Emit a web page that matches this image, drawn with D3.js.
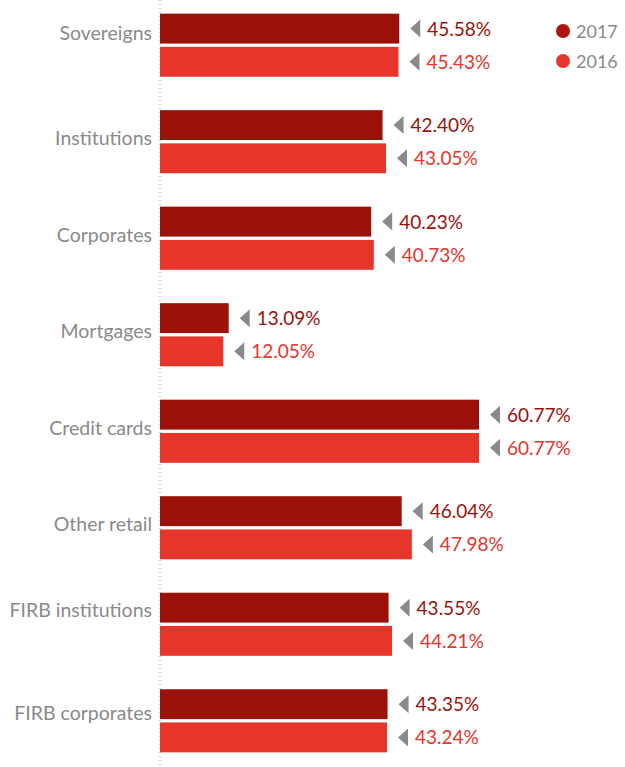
<!DOCTYPE html>
<html>
<head>
<meta charset="utf-8">
<script src="https://cdn.jsdelivr.net/npm/d3@7"></script>
<style>
  body { margin: 0; background: #fff; }
  text { font-family: Lato, "Open Sans", sans-serif; }
</style>
</head>
<body>
<svg width="625" height="767"></svg>
<script>
const svg = d3.select("svg");
const width = +svg.attr("width");
const height = +svg.attr("height");

const categories = ["Sovereigns", "Institutions", "Corporates", "Mortgages", "Credit cards", "Other retail", "FIRB institutions", "FIRB corporates"];
const seriesNames = ["2017", "2016"];
const values2017 = [45.58, 42.40, 40.23, 13.09, 60.77, 46.04, 43.55, 43.35];
const values2016 = [45.43, 43.05, 40.73, 12.05, 60.77, 47.98, 44.21, 43.24];

const colours = { "2017": "#9b1109", "2016": "#e6352b" };
const grey = "#8a8a8a";
const axisX = 160;
// the original places a few category labels a bit off the group centre
const labelNudge = { "Sovereigns": -9, "FIRB institutions": -11, "FIRB corporates": -4 };

const rows = categories.map((c, i) => ({
    category: c,
    bars: [
        { series: "2017", value: values2017[i] },
        { series: "2016", value: values2016[i] }
    ]
}));

const x = d3.scaleLinear().domain([0, 60.77]).range([axisX, 479]);

const y = d3.scaleBand()
    .domain(categories)
    .range([4, 762])
    .paddingInner(0.346)
    .paddingOuter(0.1);

const ySub = d3.scaleBand()
    .domain(seriesNames)
    .range([0, y.bandwidth()])
    .paddingInner(0.1);

// dotted axis line
svg.append("line")
    .attr("x1", axisX).attr("x2", axisX)
    .attr("y1", 0).attr("y2", height)
    .attr("stroke", "#999")
    .attr("stroke-width", 1)
    .attr("stroke-dasharray", "1,3");

const group = svg.append("g")
    .selectAll("g")
    .data(rows)
    .join("g")
    .attr("transform", d => `translate(0,${y(d.category)})`);

group.append("text")
    .attr("x", axisX - 8)
    .attr("y", d => y.bandwidth() / 2 + 3.5 + (labelNudge[d.category] || 0))
    .attr("text-anchor", "end")
    .attr("fill", grey)
    .attr("font-size", 19.5)
    .text(d => d.category);

const bar = group.selectAll("g.bar")
    .data(d => d.bars)
    .join("g")
    .attr("class", "bar")
    .attr("transform", d => `translate(0,${ySub(d.series)})`);

bar.append("rect")
    .attr("x", axisX)
    .attr("y", 0)
    .attr("width", d => x(d.value) - axisX)
    .attr("height", ySub.bandwidth())
    .attr("fill", d => colours[d.series]);

// little grey pointer triangle
bar.append("path")
    .attr("d", d => {
        const x0 = x(d.value) + 11;
        const cy = ySub.bandwidth() / 2;
        return `M${x0},${cy} L${x0 + 10},${cy - 9} L${x0 + 10},${cy + 9} Z`;
    })
    .attr("fill", grey);

bar.append("text")
    .attr("x", d => x(d.value) + 28)
    .attr("y", ySub.bandwidth() / 2 + 7)
    .attr("fill", d => colours[d.series])
    .attr("font-size", 19)
    .text(d => d.value.toFixed(2) + "%");

// legend
const legend = svg.append("g")
    .selectAll("g")
    .data(seriesNames)
    .join("g")
    .attr("transform", (d, i) => `translate(563,${31 + i * 30})`);

legend.append("circle")
    .attr("r", 7)
    .attr("fill", d => d === "2017" ? "#b0130d" : colours[d]);

legend.append("text")
    .attr("x", 13)
    .attr("y", 6.5)
    .attr("fill", grey)
    .attr("font-size", 18)
    .text(d => d);
</script>
</body>
</html>
